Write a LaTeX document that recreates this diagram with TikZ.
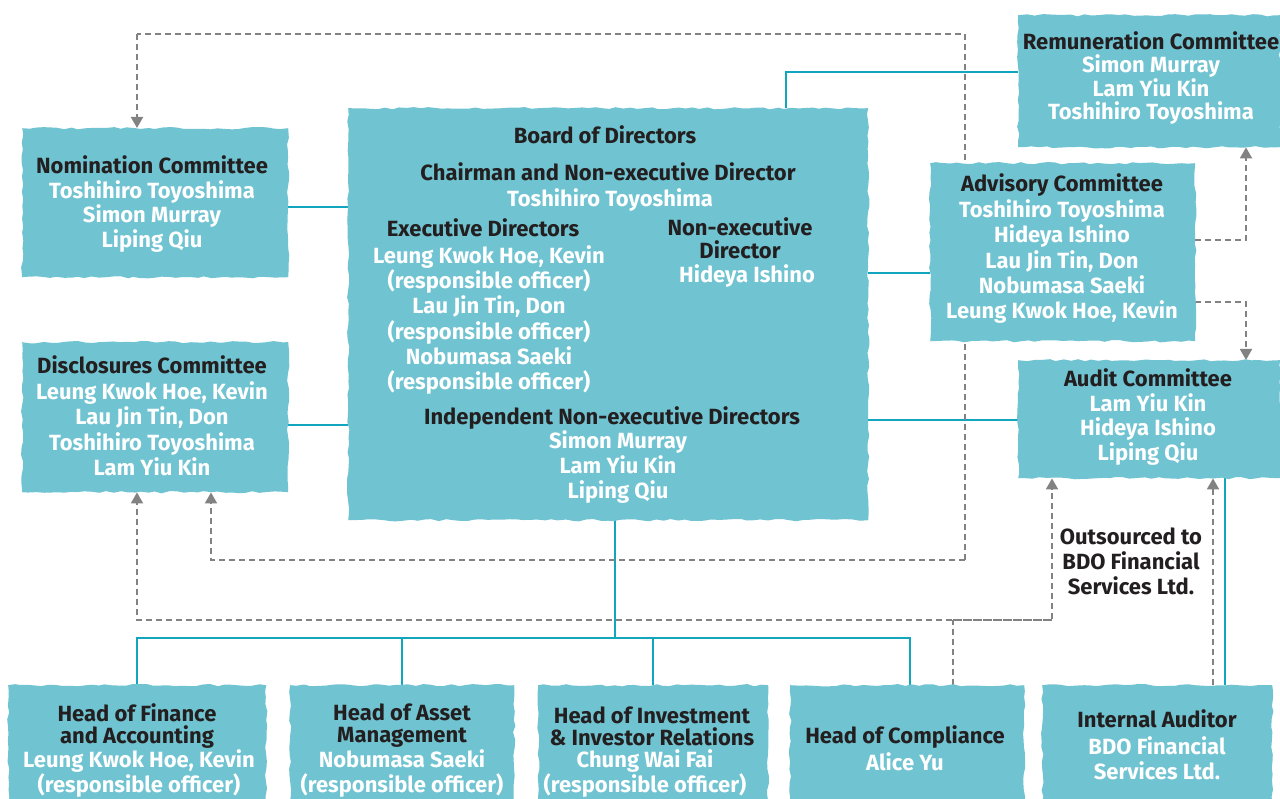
\documentclass[tikz,border=0pt]{standalone}
\usepackage{fontspec}
\setmainfont{Fira Sans}
\usetikzlibrary{decorations.pathmorphing,backgrounds,arrows.meta}
\definecolor{boxfill}{HTML}{70C3D1}
\definecolor{tealline}{HTML}{12A6BE}
\definecolor{dashgray}{HTML}{828282}
\definecolor{ink}{HTML}{231F20}
\begin{document}
\begin{tikzpicture}[x=1pt,y=-1pt,
  wbox/.style={fill=boxfill, decorate, decoration={random steps,segment length=7pt,amplitude=1.2pt}, inner sep=0pt, anchor=north west},
  tx/.style={inner sep=0pt, align=center, text=white, font=\bfseries\fontsize{22}{25}\selectfont},
  tl/.style={draw=tealline, line width=2.4pt},
  dl/.style={draw=dashgray, line width=1.9pt, dash pattern=on 6pt off 4pt},
  tip/.style={-{Triangle[width=12pt,length=11pt]}}
]
\useasboundingbox (0,0) rectangle (1280,799);

% boxes
\node[wbox, minimum width=262pt, minimum height=132pt] (rem) at (1018,15) {};
\node[wbox, minimum width=265pt, minimum height=178pt] (adv) at (930,163) {};
\node[wbox, minimum width=262pt, minimum height=118pt] (aud) at (1018,360) {};
\node[wbox, minimum width=266pt, minimum height=149pt] (nom) at (22,128) {};
\node[wbox, minimum width=266pt, minimum height=150pt] (dis) at (22,342) {};
\node[wbox, minimum width=520pt, minimum height=412pt] (board) at (348,108) {};
\node[wbox, minimum width=258pt, minimum height=125pt] (fin) at (8,685) {};
\node[wbox, minimum width=224pt, minimum height=125pt] (asset) at (290,685) {};
\node[wbox, minimum width=230pt, minimum height=125pt] (inv) at (538,685) {};
\node[wbox, minimum width=234pt, minimum height=125pt] (comp) at (790,685) {};
\node[wbox, minimum width=230pt, minimum height=125pt] (ia) at (1042,685) {};

% texts
\node[tx, font=\bfseries\fontsize{22}{23.3}\selectfont] (remT) at (1151,78) {\textcolor{ink}{Remuneration Committee}\\Simon Murray\\Lam Yiu Kin\\Toshihiro Toyoshima};
\node[tx, font=\bfseries\fontsize{22}{25.4}\selectfont] (advT) at (1062,249) {\textcolor{ink}{Advisory Committee}\\Toshihiro Toyoshima\\Hideya Ishino\\Lau Jin Tin, Don\\Nobumasa Saeki\\Leung Kwok Hoe, Kevin};
\node[tx, font=\bfseries\fontsize{22}{24.4}\selectfont] (audT) at (1148,417) {\textcolor{ink}{Audit Committee}\\Lam Yiu Kin\\Hideya Ishino\\Liping Qiu};
\node[tx, font=\bfseries\fontsize{22}{24.7}\selectfont] (nomT) at (152,204) {\textcolor{ink}{Nomination Committee}\\Toshihiro Toyoshima\\Simon Murray\\Liping Qiu};
\node[tx, font=\bfseries\fontsize{22}{25.5}\selectfont] (disT) at (152,416) {\textcolor{ink}{Disclosures Committee}\\Leung Kwok Hoe, Kevin\\Lau Jin Tin, Don\\Toshihiro Toyoshima\\Lam Yiu Kin};

\node[tx, text=ink] (b1) at (605,135) {Board of Directors};
\node[tx, text=ink] (b2) at (608,172) {Chairman and Non-executive Director};
\node[tx] (b3) at (610,200) {Toshihiro Toyoshima};
\node[tx, text=ink] (b4) at (483,228) {Executive Directors};
\node[tx, font=\bfseries\fontsize{22}{25.2}\selectfont] (b5) at (489,320) {Leung Kwok Hoe, Kevin\\(responsible officer)\\Lau Jin Tin, Don\\(responsible officer)\\Nobumasa Saeki\\(responsible officer)};
\node[tx, text=ink, font=\bfseries\fontsize{22}{23}\selectfont] (b6) at (740,238) {Non-executive\\Director};
\node[tx] (b7) at (747,276) {Hideya Ishino};
\node[tx, text=ink] (b8) at (612,418) {Independent Non-executive Directors};
\node[tx] (b9) at (618,467) {Simon Murray\\Lam Yiu Kin\\Liping Qiu};

\node[tx, text=ink] (outs) at (1131,561) {Outsourced to\\BDO Financial\\Services Ltd.};

\node[tx, text=ink, font=\bfseries\fontsize{22}{22}\selectfont] (finA) at (137,726) {Head of Finance\\and Accounting};
\node[tx] (finB) at (139,774) {Leung Kwok Hoe, Kevin\\(responsible officer)};
\node[tx, text=ink, font=\bfseries\fontsize{22}{22}\selectfont] (asA) at (402,726) {Head of Asset\\Management};
\node[tx] (asB) at (402,774) {Nobumasa Saeki\\(responsible officer)};
\node[tx, text=ink, font=\bfseries\fontsize{22}{22}\selectfont] (invA) at (652,726) {Head of Investment\\\& Investor Relations};
\node[tx] (invB) at (645,774) {Chung Wai Fai\\(responsible officer)};
\node[tx, text=ink] (compA) at (905,737) {Head of Compliance};
\node[tx] (compB) at (905,762) {Alice Yu};
\node[tx, text=ink] (iaA) at (1157,719) {Internal Auditor};
\node[tx] (iaB) at (1157,758) {BDO Financial\\Services Ltd.};

% coordinates
\coordinate (c1) at (786,72);
\coordinate (a1) at (900,273);
\coordinate (a2) at (900,420);
\coordinate (a3) at (320,207);
\coordinate (a4) at (320,425);
\coordinate (bus) at (615,638);
\coordinate (busL) at (137,638);
\coordinate (busR) at (910,638);
\coordinate (busA) at (402,638);
\coordinate (busI) at (653,638);
\coordinate (x1) at (1225,600);
\coordinate (dtr) at (965,34);
\coordinate (dbr) at (965,560);
\coordinate (dnx) at (137,34);
\coordinate (dx2) at (211,560);
\coordinate (e0) at (953,620);
\coordinate (e1) at (137,620);
\coordinate (e2) at (1052,620);
\coordinate (f0) at (1213,600);
\coordinate (g1) at (1246,240);
\coordinate (g2) at (1246,302);

\begin{scope}[on background layer]
\draw[tl] (board.north -| c1) -- (c1) -- (rem.west |- c1);
\draw[tl] (board.east |- a1) -- (adv.west |- a1);
\draw[tl] (board.east |- a2) -- (aud.west |- a2);
\draw[tl] (nom.east |- a3) -- (board.west |- a3);
\draw[tl] (dis.east |- a4) -- (board.west |- a4);
\draw[tl] (board.south -| bus) -- (bus);
\draw[tl] (fin.north -| busL) -- (busL) -- (busR) -- (comp.north -| busR);
\draw[tl] (asset.north -| busA) -- (busA);
\draw[tl] (inv.north -| busI) -- (busI);
\draw[tl] (aud.south -| x1) -- (ia.north -| x1);

\draw[dl] (dbr) -- (dtr) -- (dnx);
\draw[dl, tip] (dnx) -- (dnx |- nom.north);
\draw[dl, tip] (dbr) -- (dx2) -- (dx2 |- dis.south);
\draw[dl] (comp.north -| e0) -- (e0);
\draw[dl, tip] (e2) -- (e1) -- (e1 |- dis.south);
\draw[dl, tip] (e0) -- (e2) -- (e2 |- aud.south);
\draw[dl, tip] (ia.north -| f0) -- (aud.south -| f0);
\draw[dl, tip] (adv.east |- g1) -- (g1) -- (g1 |- rem.south);
\draw[dl, tip] (adv.east |- g2) -- (g2) -- (g2 |- aud.north);
\end{scope}
\end{tikzpicture}
\end{document}
